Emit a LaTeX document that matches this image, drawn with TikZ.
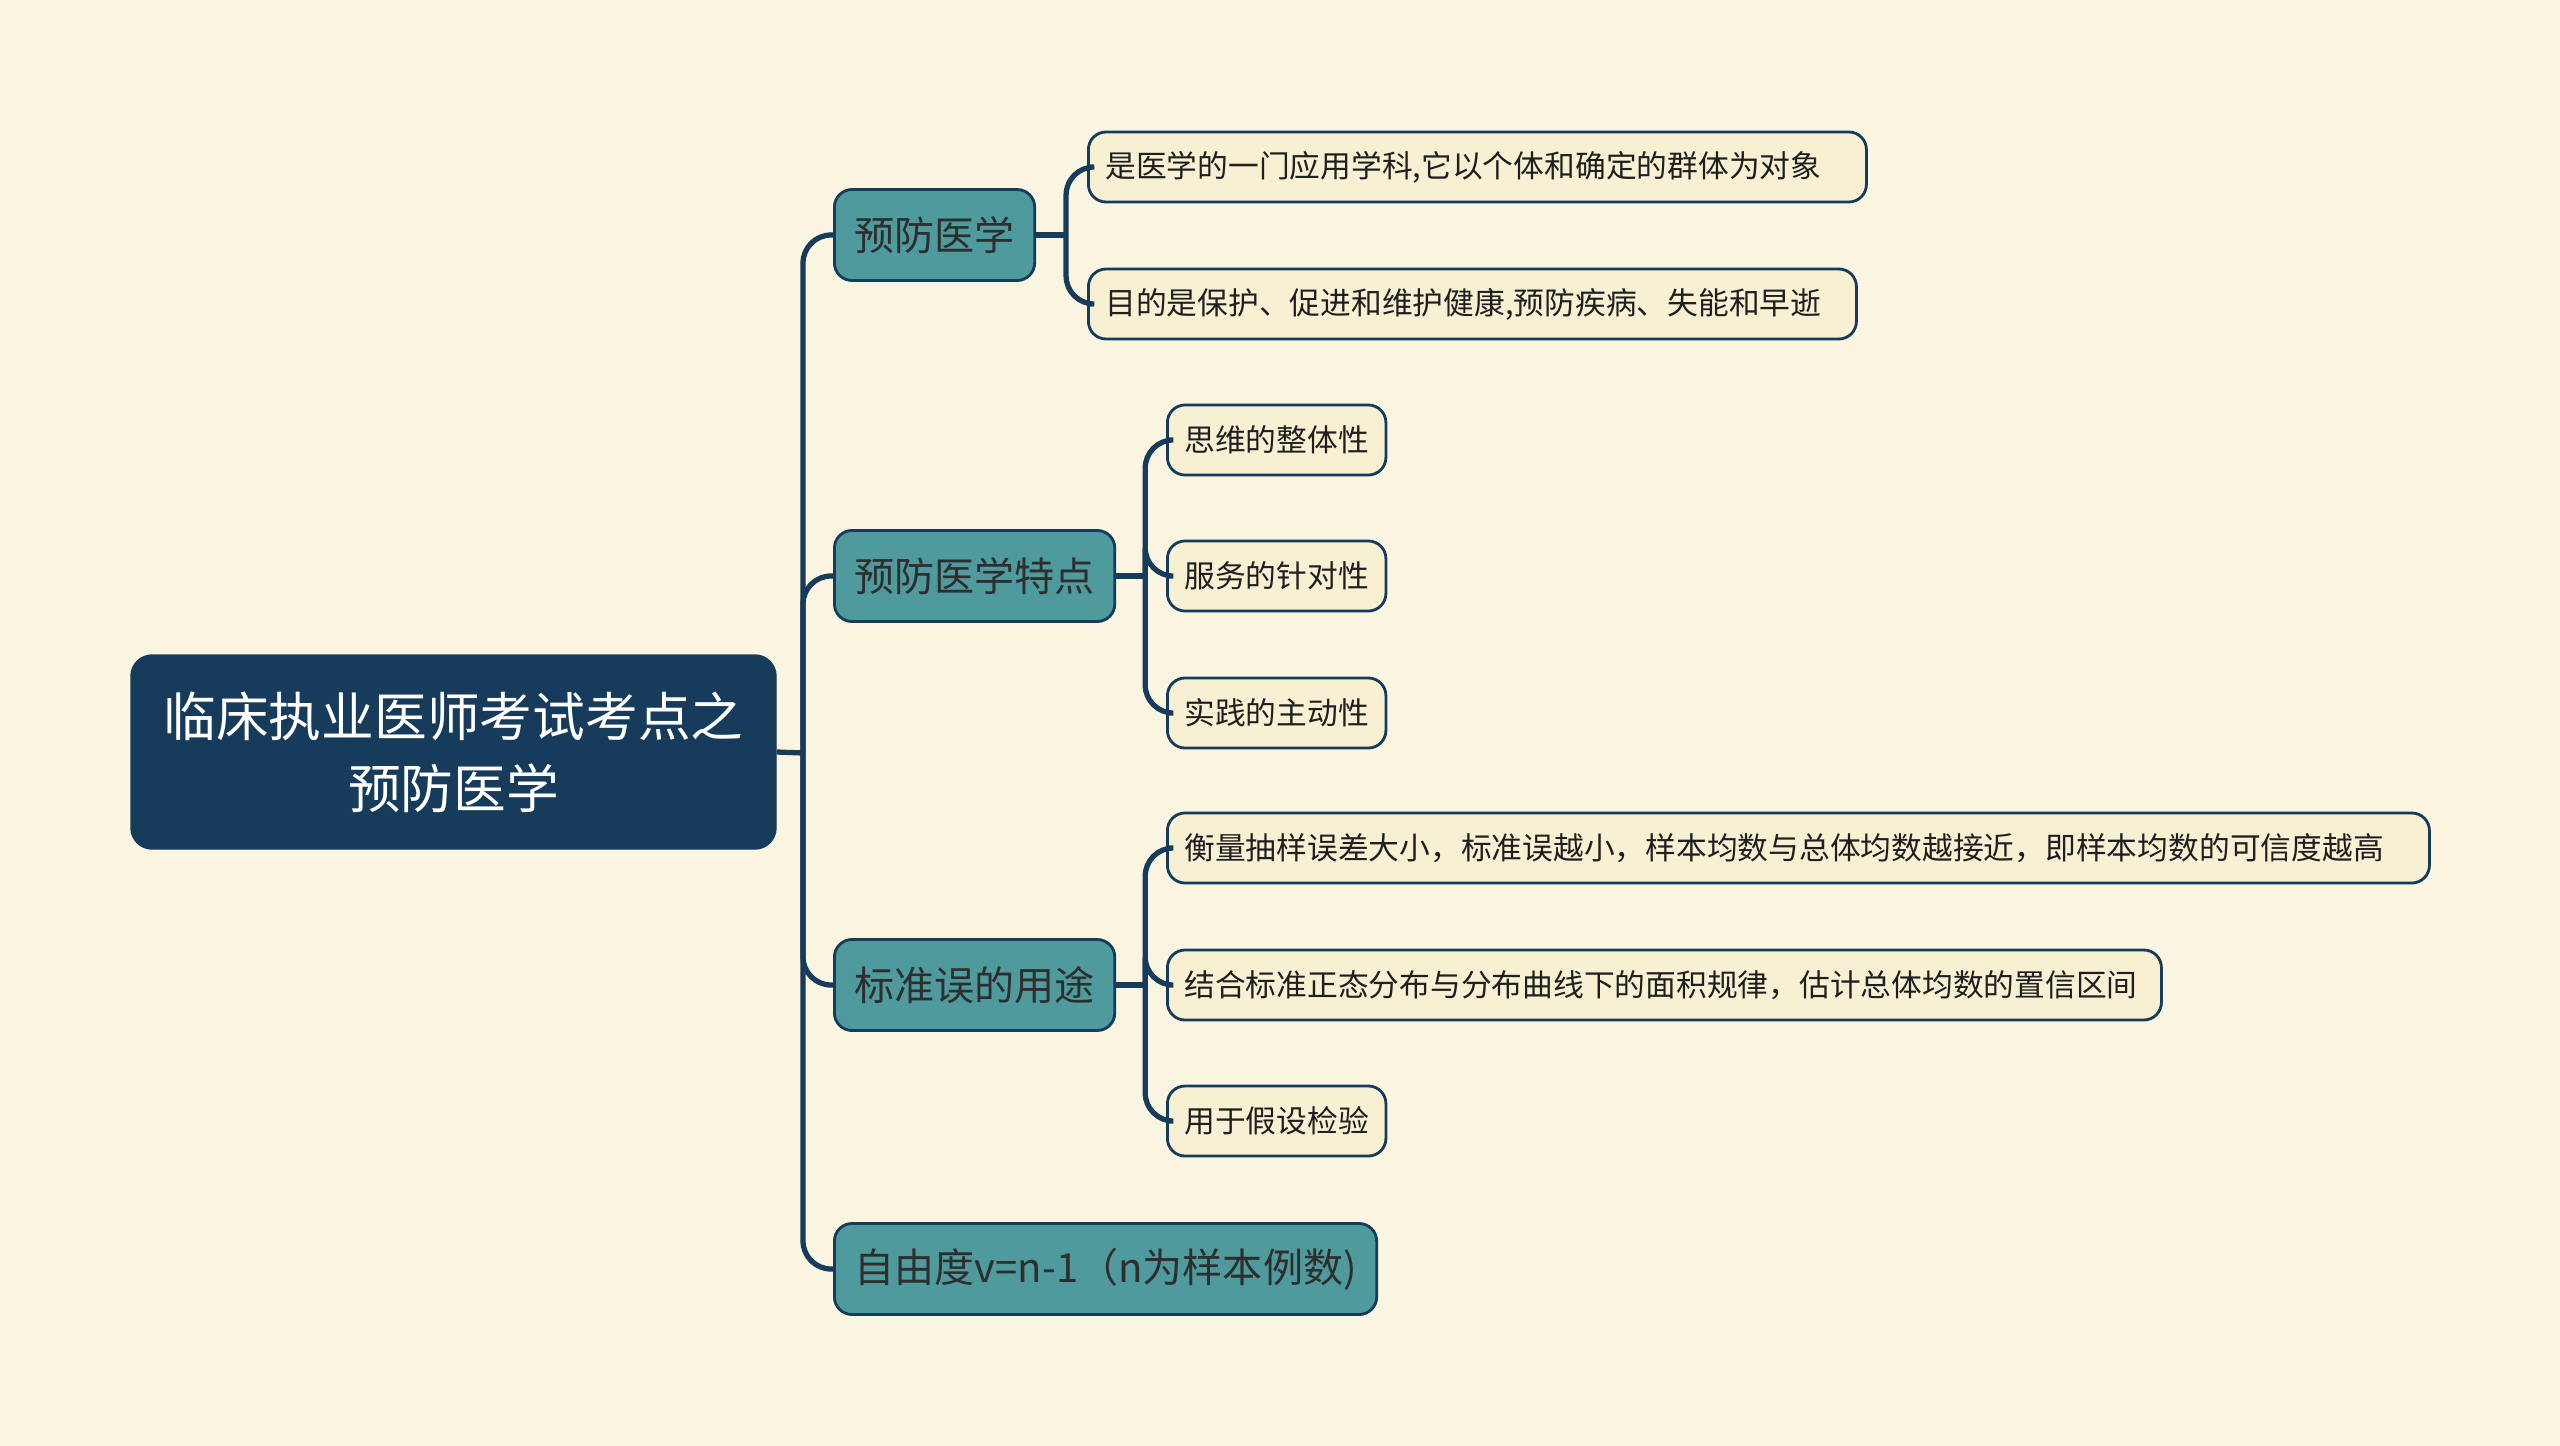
\documentclass[tikz,border=0pt]{standalone}
\usepackage{fontspec}
\newfontfamily\cjk{Noto Sans CJK SC}
\usetikzlibrary{positioning}
\definecolor{bgcream}{HTML}{FAF5E0}
\definecolor{navy}{HTML}{173B5B}
\definecolor{tealbox}{HTML}{4E9A9C}
\definecolor{leafcream}{HTML}{F7F0D3}
\definecolor{inkgray}{HTML}{2E2E2E}

\begin{document}
\begin{tikzpicture}[x=1cm,y=-1cm,
font=\cjk,
root/.style={draw=navy, fill=navy, rounded corners=6pt, text=white, align=center, minimum width=6.45cm, minimum height=1.94cm, font=\cjk\fontsize{15}{20.5}\selectfont},
topic/.style={draw=navy, line width=0.8pt, fill=tealbox, rounded corners=5pt, text=inkgray, anchor=west, minimum height=0.91cm, inner xsep=0.2cm, font=\cjk\fontsize{11.4}{13}\selectfont},
leaf/.style={draw=navy, line width=0.8pt, fill=leafcream, rounded corners=5pt, text=black!88, anchor=west, minimum height=0.70cm, inner xsep=0.17cm, font=\cjk\fontsize{8.75}{10}\selectfont},
longleaf/.style={leaf, text width=#1, align=left},
link/.style={draw=navy, line width=1.5pt, rounded corners=8pt}
]
\useasboundingbox[fill=bgcream] (0,0) rectangle (25.6,14.46);

\node[root] (root) at (4.535,7.52) {临床执业医师考试考点之\\预防医学};

\node[topic] (t1) at (8.33,2.35) {预防医学};
\node[topic] (t2) at (8.33,5.76) {预防医学特点};
\node[topic] (t3) at (8.33,9.85) {标准误的用途};
\node[topic] (t4) at (8.33,12.69) {自由度v=n-1（n为样本例数)};

\node[longleaf=7.44cm] (a1) at (10.87,1.67) {是医学的一门应用学科,它以个体和确定的群体为对象};
\node[longleaf=7.34cm] (a2) at (10.87,3.04) {目的是保护、促进和维护健康,预防疾病、失能和早逝};

\node[leaf] (b1) at (11.66,4.40) {思维的整体性};
\node[leaf] (b2) at (11.66,5.76) {服务的针对性};
\node[leaf] (b3) at (11.66,7.13) {实践的主动性};

\node[longleaf=12.28cm] (c1) at (11.66,8.48) {衡量抽样误差大小，标准误越小，样本均数与总体均数越接近，即样本均数的可信度越高};
\node[longleaf=9.6cm] (c2) at (11.66,9.85) {结合标准正态分布与分布曲线下的面积规律，估计总体均数的置信区间};
\node[leaf] (c3) at (11.66,11.21) {用于假设检验};

% branch points
\coordinate (hub) at (8.03,7.53);
\path (t1.east) ++(0.3,0) coordinate (t1hub);
\path (t2.east) ++(0.29,0) coordinate (t2hub);
\path (t3.east) ++(0.29,0) coordinate (t3hub);

\draw[link] (root.east) -- (hub);
\foreach \t in {t1,t2,t3,t4}
  \draw[link] (hub) |- (\t.west);

\draw[link] (t1.east) -- (t1hub);
\foreach \x in {a1,a2}
  \draw[link] (t1hub) |- (\x.west);
\draw[link] (t2.east) -- (t2hub);
\foreach \x in {b1,b2,b3}
  \draw[link] (t2hub) |- (\x.west);
\draw[link] (t3.east) -- (t3hub);
\foreach \x in {c1,c2,c3}
  \draw[link] (t3hub) |- (\x.west);
\end{tikzpicture}
\end{document}
